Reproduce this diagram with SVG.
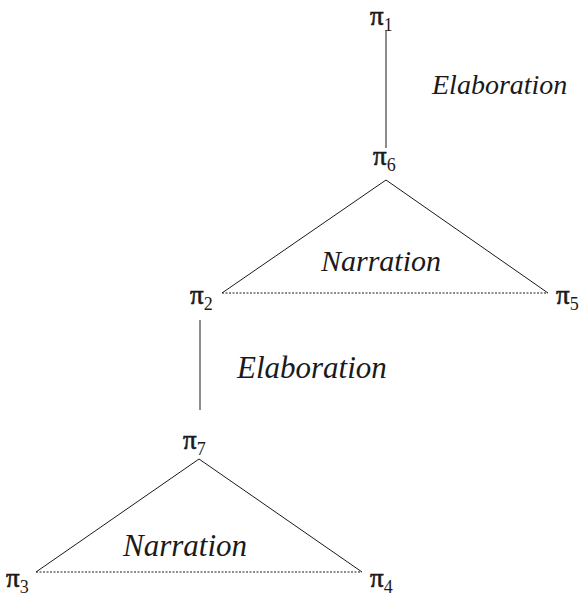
<svg xmlns="http://www.w3.org/2000/svg" width="582" height="597" viewBox="0 0 582 597">
<style>
.n{font-family:"Liberation Serif","Times New Roman",serif;font-size:27px;fill:#1a1a1a;stroke:#1a1a1a;stroke-width:0.6}
.s{font-size:18px;stroke-width:0}
.l{font-family:"Liberation Serif","Times New Roman",serif;font-style:italic;fill:#1a1a1a}
.e{stroke:#1a1a1a;stroke-width:1;fill:none}
.d{stroke:#1a1a1a;stroke-width:1;stroke-dasharray:2,1.5;fill:none}
</style>
<rect width="582" height="597" fill="#fff"/>
<g id="connectors">
<line class="e" x1="386" y1="30" x2="386" y2="148"/>
<line class="e" x1="386" y1="180" x2="222" y2="293"/>
<line class="e" x1="386" y1="180" x2="548" y2="293"/>
<line class="d" x1="222" y1="293" x2="548" y2="293"/>
<line class="e" x1="200" y1="320" x2="200" y2="410"/>
<line class="e" x1="199" y1="459" x2="36" y2="572"/>
<line class="e" x1="199" y1="459" x2="362" y2="572"/>
<line class="d" x1="36" y1="572" x2="362" y2="572"/>
<text class="l" x="432" y="94" font-size="28">Elaboration</text>
<text class="l" x="321" y="271" font-size="30">Narration</text>
<text class="l" x="237" y="378" font-size="31">Elaboration</text>
<text class="l" x="123" y="556" font-size="31">Narration</text>
</g>
<g id="pi1"><text class="n" x="370" y="25">π<tspan class="s" dy="6">1</tspan></text></g>
<g id="pi6"><text class="n" x="373" y="165">π<tspan class="s" dy="6">6</tspan></text></g>
<g id="pi2"><text class="n" x="190" y="304">π<tspan class="s" dy="6">2</tspan></text></g>
<g id="pi5"><text class="n" x="556" y="304">π<tspan class="s" dy="6">5</tspan></text></g>
<g id="pi7"><text class="n" x="183" y="449">π<tspan class="s" dy="6">7</tspan></text></g>
<g id="pi3"><text class="n" x="6" y="587">π<tspan class="s" dy="6">3</tspan></text></g>
<g id="pi4"><text class="n" x="370" y="587">π<tspan class="s" dy="6">4</tspan></text></g>
</svg>
